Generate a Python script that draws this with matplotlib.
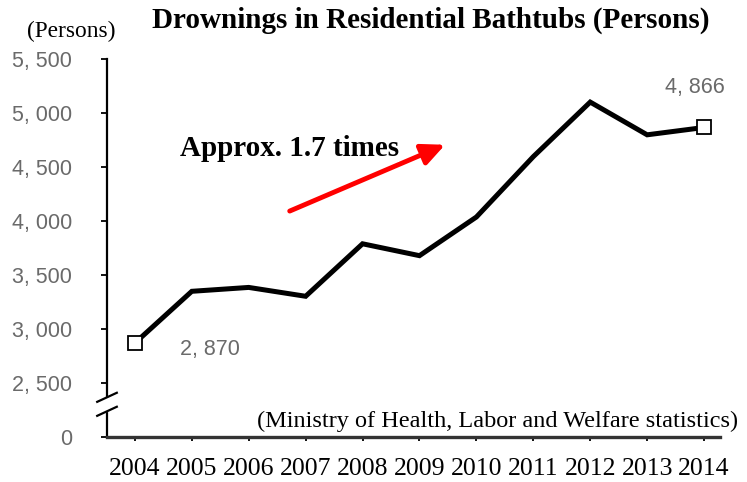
import matplotlib
matplotlib.use("Agg")
import matplotlib.pyplot as plt

# data
years = [2004, 2005, 2006, 2007, 2008, 2009, 2010, 2011, 2012, 2013, 2014]
deaths = [2870, 3349, 3385, 3303, 3789, 3679, 4037, 4596, 5101, 4798, 4866]

ytick_vals = [2000, 2500, 3000, 3500, 4000, 4500, 5000, 5500]
ytick_labels = ['0', '2, 500', '3, 000', '3, 500', '4, 000', '4, 500', '5, 000', '5, 500']

serif = 'Liberation Serif'
sans = 'Liberation Sans'
gray = '#6a6a6a'

fig = plt.figure(figsize=(7.47, 4.82), dpi=100)
ax = fig.add_axes([107/747, 45/482, 613/747, 378/482])

ax.plot(years, deaths, color='black', linewidth=3.6, solid_joinstyle='miter', zorder=3)
# only first and last points get square markers
ax.plot([years[0], years[-1]], [deaths[0], deaths[-1]], linestyle='none', marker='s',
        markersize=10, markerfacecolor='white', markeredgecolor='black',
        markeredgewidth=1.3, zorder=4)

ax.set_xlim(2003.51, 2014.28)
ax.set_ylim(2000, 5500)
ax.set_xticks(years)
ax.set_xticklabels([str(y) for y in years], fontsize=18.5, family=serif)
ax.set_yticks(ytick_vals)
ax.set_yticklabels(ytick_labels, fontsize=15.5, family=sans, color=gray)

for s in ['top', 'right']:
    ax.spines[s].set_visible(False)
ax.spines['left'].set_linewidth(1.6)
ax.spines['bottom'].set_linewidth(2.4)
ax.spines['bottom'].set_color('#333333')
ax.tick_params(axis='y', length=4, width=1.3, pad=21)
ax.tick_params(axis='x', length=3, width=1.3, pad=12)

# data labels
ax.text(2004.8, 2905, '2, 870', fontsize=15.5, family=sans, color=gray, va='top', ha='left')
ax.text(2013.31, 5138, '4, 866', fontsize=15.5, family=sans, color=gray, va='bottom', ha='left')

# red arrow + annotation
ax.annotate('', xy=(2009.45, 4706), xytext=(2006.72, 4092),
            arrowprops=dict(arrowstyle='-|>,head_length=1.4,head_width=0.65',
                            color='#ff0000', lw=3.5, shrinkA=0, shrinkB=0),
            zorder=5)
ax.text(2004.79, 4670, 'Approx. 1.7 times', fontsize=21, family=serif, fontweight='bold',
        va='center', ha='left', zorder=6,
        bbox=dict(facecolor='white', edgecolor='none', pad=0))

# axis break on y axis
ax.plot([0, 0], [0.072, 0.098], transform=ax.transAxes, color='white', lw=3, clip_on=False, zorder=7)
for y0 in [0.056, 0.093]:
    ax.plot([-0.016, 0.016], [y0, y0 + 0.024], transform=ax.transAxes, color='black',
            lw=1.6, clip_on=False, zorder=8)

fig.text(431/747, 1 - 20/482, 'Drownings in Residential Bathtubs (Persons)', fontsize=21,
         family=serif, fontweight='bold', ha='center', va='center')
fig.text(71/747, 1 - 31/482, '(Persons)', fontsize=16.8, family=serif, ha='center', va='center')
fig.text(738/747, 1 - 421/482, '(Ministry of Health, Labor and Welfare statistics)', fontsize=17.5,
         family=serif, ha='right', va='center')

fig.savefig('out.png', dpi=100)
